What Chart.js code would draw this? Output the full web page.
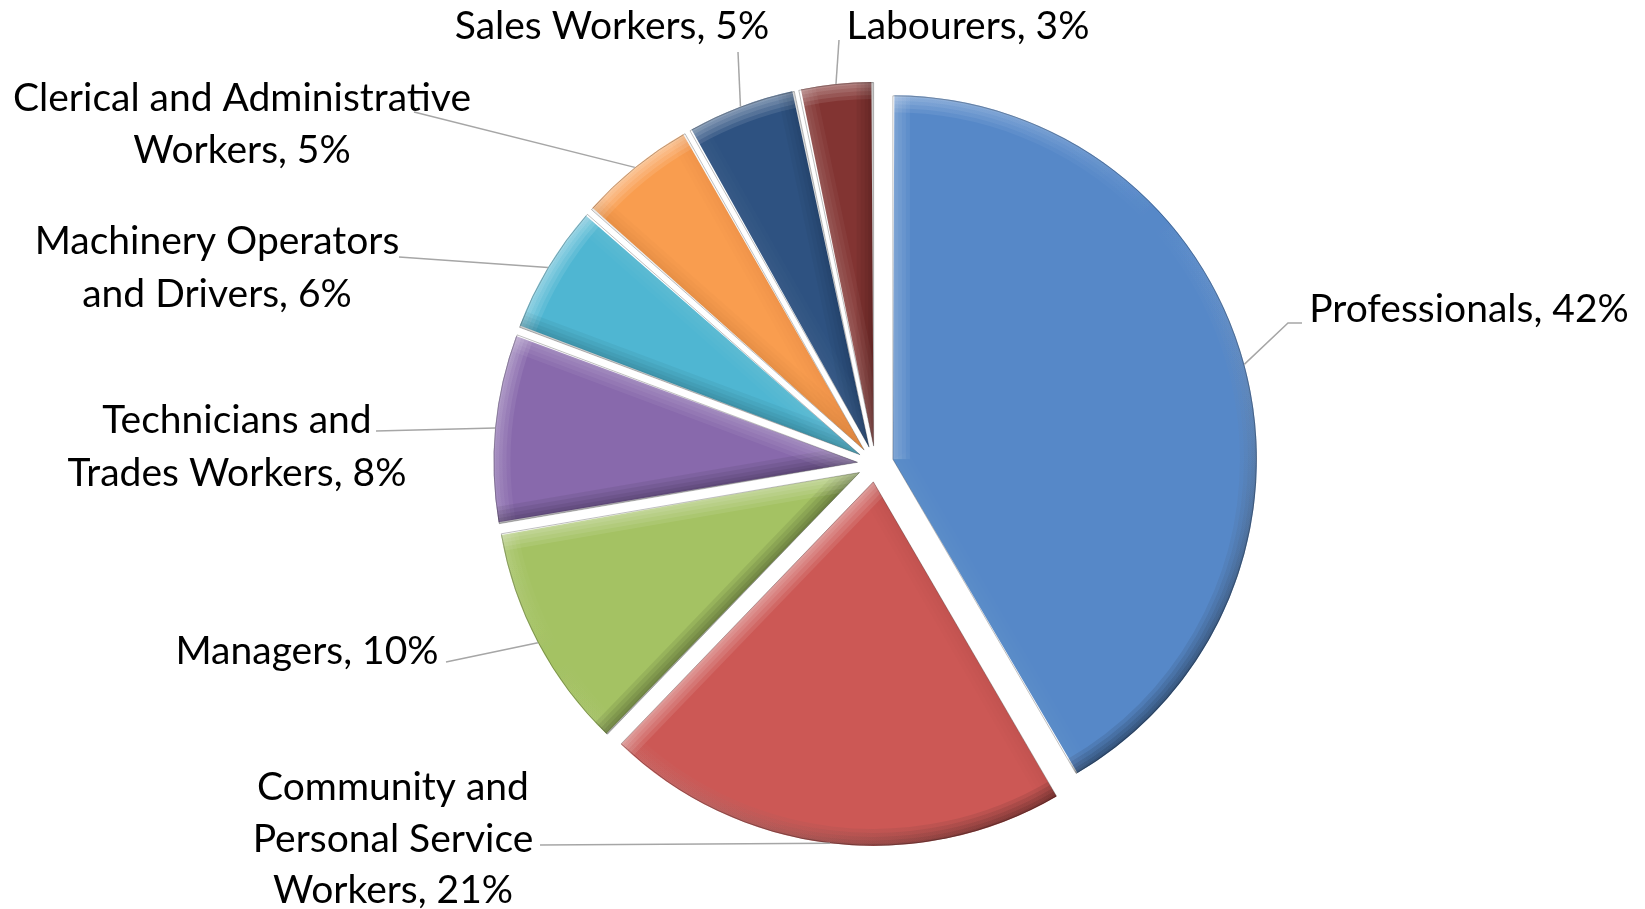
<!DOCTYPE html>
<html>
<head>
<meta charset="utf-8">
<script src="https://cdn.jsdelivr.net/npm/chart.js@4.4.1/dist/chart.umd.min.js"></script>
<style>
  html, body { margin: 0; padding: 0; background: #fff; }
  #wrap { width: 1645px; height: 909px; }
</style>
</head>
<body>
<div id="wrap"><canvas id="occChart" width="1645" height="909"></canvas></div>
<script>
// data (share of employed persons, %)
const categories = ['Professionals', 'Community and Personal Service Workers', 'Managers',
  'Technicians and Trades Workers', 'Machinery Operators and Drivers',
  'Clerical and Administrative Workers', 'Sales Workers', 'Labourers'];
const shares = [41.6, 20.6, 10.1, 8.4, 5.8, 5.3, 4.9, 3.3];
// how each label wraps in the picture (percentage is appended to the last line)
const labelLines = [
  ['Professionals'],
  ['Community and', 'Personal Service', 'Workers'],
  ['Managers'],
  ['Technicians and', 'Trades Workers'],
  ['Machinery Operators', 'and Drivers'],
  ['Clerical and Administrative', 'Workers'],
  ['Sales Workers'],
  ['Labourers']
];
const sliceColors = ['#5688c8', '#cc5855', '#a4c263', '#8869ac', '#4fb6d2', '#f99d4f', '#2e5281', '#823432'];

// where the label boxes sit (x centre, line centres) and where their leader ends
const labelLayout = [
  { x: 1469, y: [309], end: [[1288, 323], [1302, 323]] },
  { x: 393, y: [787, 839, 890], end: [[540, 845]] },
  { x: 307, y: [651], end: [[446, 662]] },
  { x: 237, y: [420, 473], end: [[376, 431]] },
  { x: 217, y: [241, 294], end: [[399, 257]] },
  { x: 242, y: [98, 150], end: [[414, 112]] },
  { x: 612, y: [26], end: [[738, 52]] },
  { x: 968, y: [26], end: [[839, 40]] }
];
const EXPLODE = 72; // chart.js moves a slice by offset / 4

// chart.js also grows exploded slices a little; keep all radii equal like the picture
const evenRadius = {
  id: 'evenRadius',
  beforeDatasetsDraw(chart) {
    const meta = chart.getDatasetMeta(0);
    const R = meta.controller.outerRadius;
    meta.data.forEach(arc => {
      const shift = (arc.options.offset || 0) / 4;
      const fix = 1 - Math.sin(Math.min(Math.PI, arc.circumference || 0));
      arc.outerRadius = R - shift * fix;
    });
  }
};

// soft bevel on each slice edge, lit from the top left
const bevel = {
  id: 'bevel',
  afterDatasetsDraw(chart) {
    const ctx = chart.ctx;
    const meta = chart.getDatasetMeta(0);
    const R = meta.controller.outerRadius;
    const L = { x: -0.6, y: -0.8 };
    const bands = [34, 26, 18, 11, 5];
    meta.data.forEach(arc => {
      const mid = (arc.startAngle + arc.endAngle) / 2;
      const shift = (arc.options.offset || 0) / 4;
      const cx = arc.x + Math.cos(mid) * shift;
      const cy = arc.y + Math.sin(mid) * shift;
      ctx.save();
      ctx.beginPath();
      ctx.moveTo(cx, cy);
      ctx.arc(cx, cy, R, arc.startAngle, arc.endAngle);
      ctx.closePath();
      ctx.clip();
      // outer rim
      const g = ctx.createLinearGradient(cx + L.x * R, cy + L.y * R, cx - L.x * R, cy - L.y * R);
      g.addColorStop(0, 'rgba(255,255,255,0.5)');
      g.addColorStop(0.45, 'rgba(255,255,255,0.0)');
      g.addColorStop(1, 'rgba(0,0,0,0.45)');
      bands.forEach(w => {
        ctx.globalAlpha = 0.22;
        ctx.lineWidth = w;
        ctx.strokeStyle = g;
        ctx.beginPath();
        ctx.arc(cx, cy, R, arc.startAngle, arc.endAngle);
        ctx.stroke();
      });
      // straight edges
      [[arc.startAngle, -1], [arc.endAngle, 1]].forEach(([ang, side]) => {
        const nAng = ang + side * Math.PI / 2;
        const k = Math.cos(nAng) * L.x + Math.sin(nAng) * L.y;
        const col = k > 0 ? 'rgba(255,255,255,' + (0.45 * k).toFixed(3) + ')' : 'rgba(0,0,0,' + (0.35 * -k).toFixed(3) + ')';
        bands.forEach(w => {
          ctx.globalAlpha = 0.22;
          ctx.lineWidth = w;
          ctx.strokeStyle = col;
          ctx.beginPath();
          ctx.moveTo(cx, cy);
          ctx.lineTo(cx + Math.cos(ang) * R, cy + Math.sin(ang) * R);
          ctx.stroke();
        });
      });
      ctx.restore();
      // thin darker outline
      ctx.save();
      ctx.strokeStyle = 'rgba(0,0,0,0.25)';
      ctx.lineWidth = 1;
      ctx.beginPath();
      ctx.moveTo(cx, cy);
      ctx.arc(cx, cy, R - 0.5, arc.startAngle, arc.endAngle);
      ctx.closePath();
      ctx.stroke();
      ctx.restore();
    });
  }
};

// outside labels with grey leader lines
const outsideLabels = {
  id: 'outsideLabels',
  afterDraw(chart) {
    const ctx = chart.ctx;
    const meta = chart.getDatasetMeta(0);
    const R = meta.controller.outerRadius;
    const total = shares.reduce((a, b) => a + b, 0);
    meta.data.forEach((arc, i) => {
      const lay = labelLayout[i];
      const mid = (arc.startAngle + arc.endAngle) / 2;
      const shift = (arc.options.offset || 0) / 4;
      const px = arc.x + Math.cos(mid) * (shift + R);
      const py = arc.y + Math.sin(mid) * (shift + R);
      ctx.save();
      ctx.strokeStyle = '#a6a6a6';
      ctx.lineWidth = 1.5;
      ctx.beginPath();
      ctx.moveTo(px, py);
      lay.end.forEach(p => ctx.lineTo(p[0], p[1]));
      ctx.stroke();

      const lines = labelLines[i].slice();
      lines[lines.length - 1] += ', ' + Math.round(shares[i] / total * 100) + '%';
      ctx.fillStyle = '#000';
      ctx.font = '39px Lato';
      ctx.textAlign = 'center';
      ctx.textBaseline = 'middle';
      lines.forEach((t, j) => ctx.fillText(t, lay.x, lay.y[j]));
      ctx.restore();
    });
  }
};

const ctx = document.getElementById('occChart').getContext('2d');
new Chart(ctx, {
  type: 'pie',
  data: {
    labels: categories,
    datasets: [{
      data: shares,
      backgroundColor: sliceColors,
      borderWidth: 0,
      offset: EXPLODE,
      radius: 364
    }]
  },
  options: {
    responsive: false,
    animation: false,
    events: [],
    radius: 364,
    layout: { padding: { left: 106, right: 0, top: 19, bottom: 0 } },
    plugins: {
      legend: { display: false },
      tooltip: { enabled: false }
    }
  },
  plugins: [evenRadius, bevel, outsideLabels]
});
</script>
</body>
</html>
